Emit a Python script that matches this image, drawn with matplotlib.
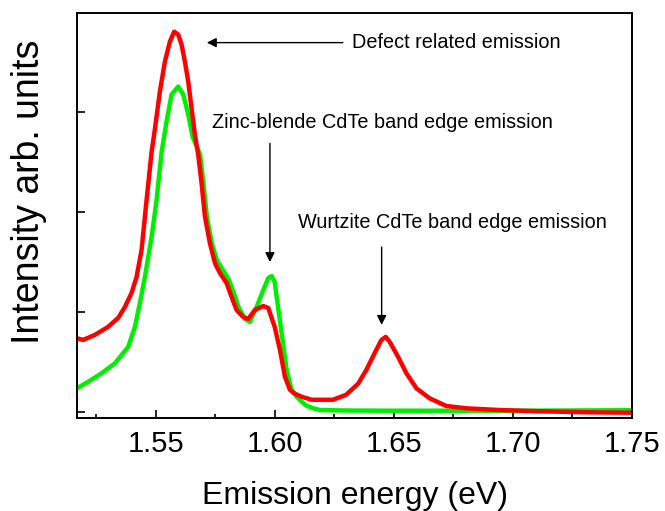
import matplotlib
matplotlib.use("Agg")
import matplotlib.pyplot as plt
from matplotlib.ticker import MultipleLocator

plt.rcParams['font.family'] = ['Liberation Sans', 'DejaVu Sans']

# Green spectrum (energy in eV, intensity arb.)
green_x = [1.517, 1.5217, 1.5273, 1.5329, 1.5385, 1.5413, 1.5434, 1.5455, 1.5483,
           1.5504, 1.5525, 1.5546, 1.5567, 1.5595, 1.5616, 1.5637, 1.5655, 1.5687,
           1.5701, 1.5715, 1.5736, 1.5757, 1.578, 1.5806, 1.5827, 1.5848, 1.5875,
           1.5896, 1.5924, 1.5952, 1.5973, 1.5987, 1.600, 1.6014, 1.6029, 1.605,
           1.6071, 1.6092, 1.6113, 1.6134, 1.6161, 1.619, 1.63, 1.65, 1.70, 1.75]
green_y = [0.235, 0.30, 0.385, 0.485, 0.65, 0.85, 1.09, 1.35, 1.75,
           2.12, 2.60, 2.91, 3.18, 3.26, 3.18, 2.98, 2.76, 2.575,
           2.29, 1.96, 1.69, 1.52, 1.43, 1.33, 1.20, 1.05, 0.93,
           0.90, 1.05, 1.22, 1.34, 1.36, 1.30, 1.05, 0.79, 0.42,
           0.22, 0.15, 0.10, 0.06, 0.035, 0.017, 0.012, 0.01, 0.01, 0.015]

# Red spectrum
red_x = [1.517, 1.5196, 1.5245, 1.530, 1.5343, 1.5371, 1.5399, 1.542, 1.5441,
         1.5462, 1.5483, 1.5498, 1.5518, 1.5539, 1.556, 1.5578, 1.5595, 1.5609,
         1.5623, 1.5637, 1.5651, 1.5665, 1.5679, 1.5693, 1.5707, 1.5728, 1.5749,
         1.577, 1.5798, 1.5819, 1.584, 1.5868, 1.5889, 1.5917, 1.5952, 1.5973,
         1.600, 1.6022, 1.6043, 1.6064, 1.6085, 1.6113, 1.6155, 1.6189, 1.6245,
         1.630, 1.635, 1.6385, 1.642, 1.6448, 1.6466, 1.6483, 1.6518, 1.6553,
         1.6595, 1.665, 1.6721, 1.6805, 1.6945, 1.71, 1.73, 1.75]
red_y = [0.736, 0.72, 0.77, 0.85, 0.94, 1.05, 1.19, 1.35, 1.62,
         2.12, 2.60, 2.85, 3.21, 3.51, 3.71, 3.81, 3.78, 3.68,
         3.51, 3.31, 3.04, 2.775, 2.575, 2.29, 1.96, 1.69, 1.49,
         1.39, 1.29, 1.15, 1.02, 0.95, 0.93, 1.02, 1.06, 1.04,
         0.85, 0.62, 0.35, 0.22, 0.18, 0.15, 0.12, 0.12, 0.12,
         0.17, 0.28, 0.42, 0.59, 0.72, 0.75, 0.70, 0.55, 0.385,
         0.235, 0.135, 0.057, 0.034, 0.017, 0.005, -0.005, -0.01]

x_ticks = [1.55, 1.60, 1.65, 1.70, 1.75]
x_tick_labels = ["1.55", "1.60", "1.65", "1.70", "1.75"]

fig = plt.figure(figsize=(6.65, 5.11), dpi=100)
ax = fig.add_axes([77/665, 1 - 418/511, (632 - 77)/665, (418 - 12.7)/511])

ax.plot(green_x, green_y, color='#00ee00', lw=3.2, solid_joinstyle='round')
ax.plot(red_x, red_y, color='#ff0000', lw=3.2, solid_joinstyle='round')

ax.set_xlim(1.517, 1.75)
ax.set_ylim(-0.063, 4.0)
ax.set_xticks(x_ticks)
ax.set_xticklabels(x_tick_labels)
ax.xaxis.set_minor_locator(MultipleLocator(0.025))
ax.set_yticks([0, 1, 2, 3])
ax.set_yticklabels([])
ax.tick_params(axis='both', which='major', direction='in', length=6, width=1.2,
               labelsize=21, pad=9, top=False, right=False)
ax.tick_params(axis='both', which='minor', direction='in', length=3, width=1.2,
               top=False, right=False)
ax.tick_params(axis='y', which='minor', left=False)
for s in ax.spines.values():
    s.set_linewidth(1.4)

ax.set_xlabel("Emission energy (eV)", fontsize=23, labelpad=16)
ax.set_ylabel("Intensity arb. units", fontsize=27)
ax.yaxis.set_label_coords(-0.054, 0.558)

arrow = dict(arrowstyle='-|>', color='black', lw=1.0, mutation_scale=14,
             shrinkA=0, shrinkB=0)
ax.annotate("", xy=(1.5715, 3.70), xytext=(1.6286, 3.70), arrowprops=arrow)
ax.text(1.6324, 3.70, "Defect related emission", fontsize=14.3, va='center', ha='left')

ax.text(1.5736, 2.90, "Zinc-blende CdTe band edge emission", fontsize=14.3,
        va='center', ha='left')
ax.annotate("", xy=(1.598, 1.50), xytext=(1.598, 2.69), arrowprops=arrow)

ax.text(1.6097, 1.90, "Wurtzite CdTe band edge emission", fontsize=14.3,
        va='center', ha='left')
ax.annotate("", xy=(1.6449, 0.87), xytext=(1.6449, 1.65), arrowprops=arrow)

fig.savefig("out.png", dpi=100)
